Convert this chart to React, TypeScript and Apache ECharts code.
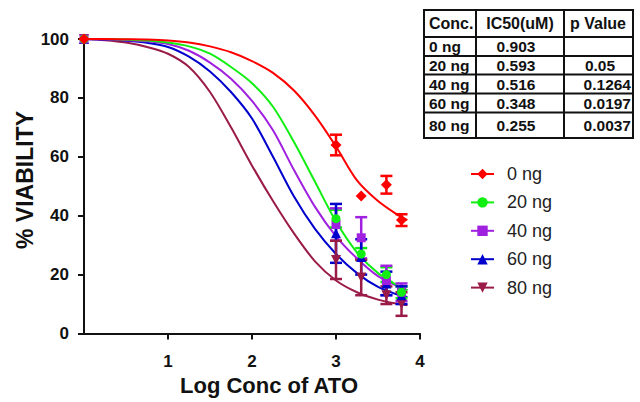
import React, { useEffect, useRef } from "react";
import * as echarts from "echarts";

// ---- data ----
const seriesNames = ["0 ng", "20 ng", "40 ng", "60 ng", "80 ng"];

// fitted curves (log conc → % viability)
const xCurve = [0, 0.25, 0.5, 0.75, 1, 1.25, 1.5, 1.75, 2, 2.25, 2.5, 2.75, 3, 3.25, 3.5, 3.75, 3.85];
const curve0 = [100, 100, 99.9, 99.8, 99.5, 98.8, 97.5, 95.5, 92.5, 88.5, 82.5, 74, 63.5, 52, 45, 40, 38.5];
const curve20 = [100, 100, 99.8, 99.5, 98.8, 97.5, 95, 90.5, 85, 77, 65, 51.5, 38, 27.5, 20.5, 16, 14.7];
const curve40 = [100, 99.9, 99.6, 99.2, 98.3, 96, 92, 86.5, 79, 69, 55.5, 43, 33, 25.5, 19.5, 15.8, 14.7];
const curve60 = [100, 99.8, 99.4, 98.7, 97.3, 94, 89, 82, 73, 60, 46.5, 35.5, 27, 20.5, 15.8, 13, 12.4];
const curve80 = [100, 99.6, 98.8, 97.3, 95, 90.5, 82, 70, 57, 45, 34, 24.5, 18, 14, 11.5, 10, 9.6];

// measured points with error bars
const xPoints = [0, 3, 3.3, 3.6, 3.78];
const pts0 = [100, 64, 46.7, 50.5, 38.5];
const err0 = [0, 3.5, 0, 3, 2];
const pts20 = [100, 39, 27, 20, 14];
const err20 = [0, 3, 2, 2.5, 2];
const pts40 = [100, 37, 32.5, 18, 14];
const err40 = [0, 5.5, 7, 5, 3];
const pts60 = [100, 34, 26, 17, 13];
const err60 = [0, 10, 6, 4, 3];
const pts80 = [100, 25, 19, 13, 10];
const err80 = [0, 6.5, 6, 3, 4];

const xTicks = [1, 2, 3, 4];

const tableHeader = ["Conc.", "IC50(uM)", "p Value"];
const tableConc = ["0 ng", "20 ng", "40 ng", "60 ng", "80 ng"];
const tableIC50 = ["0.903", "0.593", "0.516", "0.348", "0.255"];
const tableP = ["", "0.05", "0.1264", "0.0197", "0.0037"];

// ---- styles ----
const colors = ["#ff0000", "#11ee11", "#a020e0", "#0000cc", "#9a1a48"];
const symbols = ["diamond", "circle", "rect", "triangle", "triangle"];
const symbolRotates = [0, 0, 0, 0, 180];
const symbolSizes = [11, 9, 9, 10, 10];
const FONT = "'Liberation Sans', Arial, sans-serif";

const curves = [curve0, curve20, curve40, curve60, curve80];
const pts = [pts0, pts20, pts40, pts60, pts80];
const errs = [err0, err20, err40, err60, err80];

function buildTable() {
  const left = 424, right = 633, top = 10, bottom = 138;
  const colX = [476, 564];
  const rowY = [37, 56, 74.5, 93.5, 112.5];
  const rowCenters = [46.5, 65, 84, 103, 125];
  const els: any[] = [];
  const ls = { stroke: "#111", lineWidth: 2 };
  els.push({ type: "rect", shape: { x: left, y: top, width: right - left, height: bottom - top }, style: { fill: "#fff", stroke: "#111", lineWidth: 2 } });
  colX.forEach((cx) => els.push({ type: "line", shape: { x1: cx, y1: top, x2: cx, y2: bottom }, style: ls }));
  rowY.forEach((ry) => els.push({ type: "line", shape: { x1: left, y1: ry, x2: right, y2: ry }, style: ls }));
  const txt = (text: string, x: number, y: number, align: string, size: number) => ({
    type: "text",
    x,
    y,
    style: { text, fill: "#111", fontSize: size, fontWeight: "bold", fontFamily: FONT, align, verticalAlign: "middle" },
  });
  els.push(txt(tableHeader[0], 429, 23.5, "left", 16));
  els.push(txt(tableHeader[1], 520, 23.5, "center", 16));
  els.push(txt(tableHeader[2], 598, 23.5, "center", 16));
  tableConc.forEach((c, i) => {
    const y = rowCenters[i];
    els.push(txt(c, 429, y, "left", 15.5));
    els.push(txt(tableIC50[i], 516, y, "center", 15.5));
    if (tableP[i]) {
      if (tableP[i].length <= 4) els.push(txt(tableP[i], 600, y, "center", 15.5));
      else els.push(txt(tableP[i], 631, y, "right", 15.5));
    }
  });
  return els;
}

export default function App() {
  const ref = useRef<HTMLDivElement>(null);
  useEffect(() => {
    if (!ref.current) return;
    const chart = echarts.init(ref.current, null, { renderer: "svg" });
    const series: any[] = [];
    seriesNames.forEach((name, i) => {
      series.push({
        name,
        type: "line",
        data: xCurve.map((x, k) => [x, curves[i][k]]),
        smooth: 0.3,
        showSymbol: false,
        symbol: symbols[i],
        symbolRotate: symbolRotates[i],
        symbolSize: symbolSizes[i],
        itemStyle: { color: colors[i] },
        lineStyle: { color: colors[i], width: 2 },
        clip: false,
        z: 2 + (4 - i) * 0.01,
      });
    });
    seriesNames.forEach((name, i) => {
      series.push({
        name: "err" + i,
        type: "custom",
        data: xPoints.map((x, k) => [x, pts[i][k], errs[i][k]]),
        encode: { x: 0, y: 1 },
        clip: false,
        z: 3,
        renderItem: (params: any, api: any) => {
          const x = api.value(0), y = api.value(1), e = api.value(2);
          if (!e) return null;
          const t = api.coord([x, y + e]);
          const b = api.coord([x, y - e]);
          const hw = 6;
          const st = { stroke: colors[i], lineWidth: 2.5 };
          return {
            type: "group",
            children: [
              { type: "line", shape: { x1: t[0], y1: t[1], x2: b[0], y2: b[1] }, style: st },
              { type: "line", shape: { x1: t[0] - hw, y1: t[1], x2: t[0] + hw, y2: t[1] }, style: st },
              { type: "line", shape: { x1: b[0] - hw, y1: b[1], x2: b[0] + hw, y2: b[1] }, style: st },
            ],
          };
        },
      });
    });
    seriesNames.forEach((name, i) => {
      series.push({
        name: "pts" + i,
        type: "scatter",
        data: xPoints.map((x, k) => [x, pts[i][k]]),
        symbol: symbols[i],
        symbolRotate: symbolRotates[i],
        symbolSize: symbolSizes[i],
        itemStyle: { color: colors[i], opacity: 1 },
        clip: false,
        z: i === 0 ? 6 : 4 + (4 - i) * 0.1,
      });
    });

    chart.setOption({
      animation: false,
      backgroundColor: "#fff",
      grid: { left: 84, right: 220, top: 39, bottom: 68.5, containLabel: false },
      xAxis: {
        type: "value",
        min: 0,
        max: 4,
        interval: 1,
        axisLine: { show: true, onZero: false, lineStyle: { color: "#111", width: 2 } },
        axisTick: { show: true, length: 6, lineStyle: { color: "#111", width: 2 }, customValues: xTicks },
        axisLabel: {
          customValues: xTicks,
          formatter: (v: number) => (v === 0 ? "" : String(v)),
          fontSize: 17,
          fontWeight: "bold",
          color: "#111",
          fontFamily: FONT,
          margin: 19,
        },
        splitLine: { show: false },
      },
      yAxis: {
        type: "value",
        min: 0,
        max: 100,
        interval: 20,
        axisLine: { show: true, lineStyle: { color: "#111", width: 2 } },
        axisTick: { show: true, length: 6, lineStyle: { color: "#111", width: 2 } },
        axisLabel: { fontSize: 17, fontWeight: "bold", color: "#111", fontFamily: FONT, margin: 15 },
        splitLine: { show: false },
      },
      legend: {
        orient: "vertical",
        left: 465,
        top: 160,
        itemWidth: 23,
        itemHeight: 13,
        itemGap: 10.4,
        selectedMode: false,
        data: seriesNames,
        textStyle: { fontSize: 18, color: "#222", fontFamily: FONT, padding: [0, 0, 0, 8] },
      },
      graphic: [
        {
          type: "text",
          x: 269,
          y: 385,
          style: { text: "Log Conc of ATO", fontSize: 22, fontWeight: "bold", fontFamily: FONT, fill: "#111", align: "center", verticalAlign: "middle" },
        },
        {
          type: "text",
          x: 25,
          y: 180,
          rotation: Math.PI / 2,
          style: { text: "% VIABILITY", fontSize: 23, fontWeight: "bold", fontFamily: FONT, fill: "#111", align: "center", verticalAlign: "middle" },
        },
        ...buildTable(),
      ],
      series,
    });
    return () => chart.dispose();
  }, []);
  return <div ref={ref} style={{ position: "absolute", left: 0, top: 0, width: 640, height: 402, background: "#fff" }} />;
}
